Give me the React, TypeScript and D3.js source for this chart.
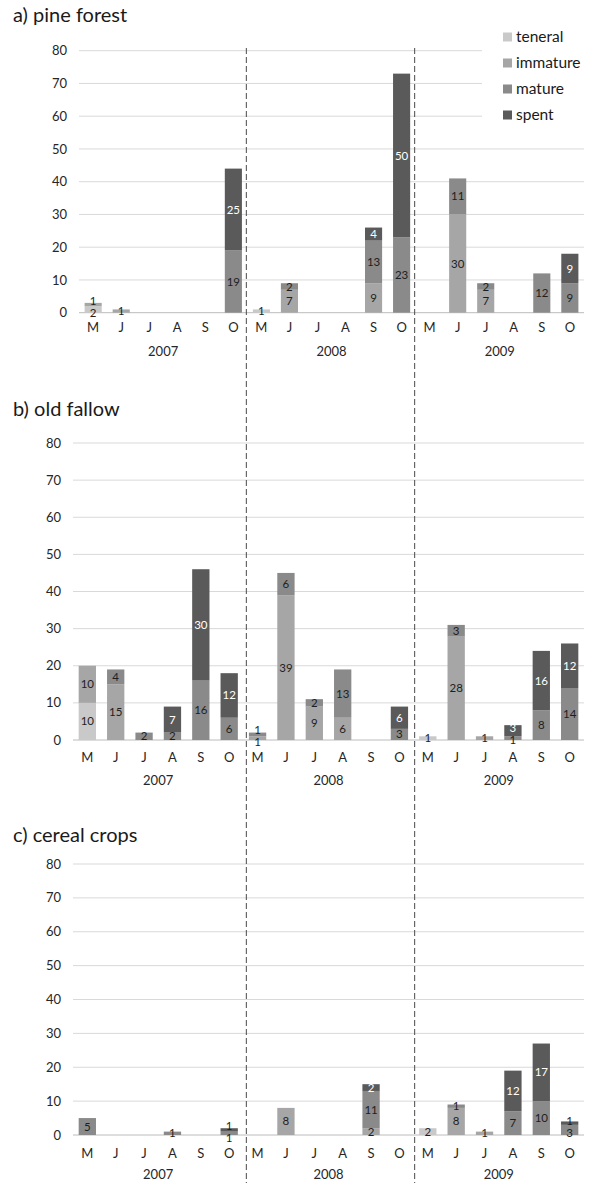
import React from "react";
import * as d3 from "d3";

// categories
const months = ["M", "J", "J", "A", "S", "O"];
const years = ["2007", "2008", "2009"];
const stages = ["teneral", "immature", "mature", "spent"];
const stageColors = ["#c9c9c9", "#a6a6a6", "#8a8a8a", "#5a5a5a"];
const yTicks = [0, 10, 20, 30, 40, 50, 60, 70, 80];

// a) pine forest — 2007 M..O, 2008 M..O, 2009 M..O
const pineTeneral = [2, 0, 0, 0, 0, 0, 1, 0, 0, 0, 0, 0, 0, 0, 0, 0, 0, 0];
const pineImmature = [1, 1, 0, 0, 0, 0, 0, 7, 0, 0, 9, 0, 0, 30, 7, 0, 0, 0];
const pineMature = [0, 0, 0, 0, 0, 19, 0, 2, 0, 0, 13, 23, 0, 11, 2, 0, 12, 9];
const pineSpent = [0, 0, 0, 0, 0, 25, 0, 0, 0, 0, 4, 50, 0, 0, 0, 0, 0, 9];

// b) old fallow
const fallowTeneral = [10, 0, 0, 0, 0, 0, 0, 0, 0, 0, 0, 0, 1, 0, 0, 0, 0, 0];
const fallowImmature = [10, 15, 0, 0, 0, 0, 1, 39, 9, 6, 0, 0, 0, 28, 1, 0, 0, 0];
const fallowMature = [0, 4, 2, 2, 16, 6, 1, 6, 2, 13, 0, 3, 0, 3, 0, 1, 8, 14];
const fallowSpent = [0, 0, 0, 7, 30, 12, 0, 0, 0, 0, 0, 6, 0, 0, 0, 3, 16, 12];

// c) cereal crops
const cerealTeneral = [0, 0, 0, 0, 0, 0, 0, 0, 0, 0, 0, 0, 2, 0, 0, 0, 0, 0];
const cerealImmature = [0, 0, 0, 0, 0, 0, 0, 8, 0, 0, 2, 0, 0, 8, 1, 0, 0, 0];
const cerealMature = [5, 0, 0, 1, 0, 1, 0, 0, 0, 0, 11, 0, 0, 1, 0, 7, 10, 3];
const cerealSpent = [0, 0, 0, 0, 0, 1, 0, 0, 0, 0, 2, 0, 0, 0, 0, 12, 17, 1];

const FONT = "Lato, 'Open Sans', sans-serif";
const LABEL_GAP = 12;

const categories = years.flatMap((y) => months.map((m, i) => `${y}-${i}-${m}`));

function buildRows(series: number[][]) {
  return categories.map((key, i) => {
    const row: any = { key };
    stages.forEach((s, j) => (row[s] = series[j][i]));
    return row;
  });
}

interface PanelProps {
  title: string;
  series: number[][];
  titleY: number;
  top: number; // y of the 80 line
  bottom: number; // y of the 0 line
  left: number;
  labelX: number;
  monthY: number;
  yearY: number;
  legend?: boolean;
}

const Panel: React.FC<PanelProps> = ({ title, series, titleY, top, bottom, left, labelX, monthY, yearY, legend }) => {
  const right = 584;
  const x = d3.scaleBand<string>().domain(categories).range([left, right]).paddingInner(0.39).paddingOuter(0.2);
  const y = d3.scaleLinear().domain([0, 80]).range([bottom, top]);
  const stacked = d3.stack<any>().keys(stages)(buildRows(series));
  const yearBand = d3.scaleBand<string>().domain(years).range([left, right]);

  // segment labels, pushed apart a little where tiny segments sit on each other
  const labels: { x: number; y: number; v: number; inside: boolean; li: number }[] = [];
  categories.forEach((c, i) => {
    const items = stacked
      .map((layer, li) => ({ li, d: layer[i] }))
      .filter((o) => o.d[1] - o.d[0] > 0)
      .map((o) => ({
        x: (x(c) as number) + x.bandwidth() / 2,
        y: y((o.d[0] + o.d[1]) / 2),
        v: o.d[1] - o.d[0],
        lo: y(o.d[0]),
        hi: y(o.d[1]),
        li: o.li,
      }));
    for (let it = 0; it < 4; it++) {
      for (let k = 1; k < items.length; k++) {
        const gap = items[k - 1].y - items[k].y;
        if (gap < LABEL_GAP) {
          const push = (LABEL_GAP - gap) / 2;
          items[k - 1].y += push;
          items[k].y -= push;
        }
      }
    }
    items.forEach((o) =>
      labels.push({ x: o.x, y: o.y, v: o.v, li: o.li, inside: o.y >= o.hi && o.y <= o.lo })
    );
  });

  return (
    <g>
      <text x={13} y={titleY} fontSize={20} fill="#1a1a1a" fontFamily={FONT}>
        {title}
      </text>
      {yTicks.map((t) => (
        <g key={t}>
          <line
            x1={left}
            x2={legend && t >= 60 ? 482 : right}
            y1={y(t)}
            y2={y(t)}
            stroke={t === 0 ? "#bcbcbc" : "#d9d9d9"}
            strokeWidth={1}
          />
          <text x={labelX} y={y(t)} dy="0.35em" textAnchor="end" fontSize={13} fill="#262626" fontFamily={FONT}>
            {t}
          </text>
        </g>
      ))}
      {stacked.map((layer, li) => (
        <g key={stages[li]} fill={stageColors[li]}>
          {layer.map((d, i) =>
            d[1] - d[0] > 0 ? (
              <rect key={i} x={x(categories[i])} width={x.bandwidth()} y={y(d[1])} height={y(d[0]) - y(d[1])} />
            ) : null
          )}
        </g>
      ))}
      {labels.map((l, k) => (
        <text
          key={k}
          x={l.x}
          y={l.y}
          dy="0.35em"
          textAnchor="middle"
          fontSize={11.5}
          fill={l.li === 3 && l.inside ? "#fff" : "#1e1e1e"}
          fontFamily={FONT}
        >
          {l.v}
        </text>
      ))}
      {categories.map((c, i) => (
        <text
          key={c}
          x={(x(c) as number) + x.bandwidth() / 2}
          y={monthY}
          dy="0.35em"
          textAnchor="middle"
          fontSize={13}
          fill="#262626"
          fontFamily={FONT}
        >
          {months[i % 6]}
        </text>
      ))}
      {years.map((yr) => (
        <text
          key={yr}
          x={(yearBand(yr) as number) + yearBand.bandwidth() / 2}
          y={yearY}
          dy="0.35em"
          textAnchor="middle"
          fontSize={13}
          fill="#262626"
          fontFamily={FONT}
        >
          {yr}
        </text>
      ))}
      {legend &&
        stages.map((s, i) => (
          <g key={s} transform={`translate(503,${37 + i * 26})`}>
            <rect x={0} y={-4.5} width={9} height={9} fill={stageColors[i]} />
            <text x={13} y={0} dy="0.35em" fontSize={15.5} fill="#1a1a1a" fontFamily={FONT}>
              {s}
            </text>
          </g>
        ))}
    </g>
  );
};

export default function App() {
  const width = 595;
  const height = 1183;
  const divider = d3.scaleLinear().domain([0, 18]).range([78, 583]);

  return (
    <svg width={width} height={height} style={{ position: "absolute", left: 0, top: 0, background: "#fff" }}>
      <rect width={width} height={height} fill="#fff" />
      <Panel
        title="a) pine forest"
        series={[pineTeneral, pineImmature, pineMature, pineSpent]}
        titleY={22}
        top={50.7}
        bottom={312.7}
        left={79}
        labelX={67}
        monthY={327}
        yearY={351}
        legend
      />
      <Panel
        title="b) old fallow"
        series={[fallowTeneral, fallowImmature, fallowMature, fallowSpent]}
        titleY={416}
        top={443}
        bottom={740}
        left={73}
        labelX={61}
        monthY={757}
        yearY={780}
      />
      <Panel
        title="c) cereal crops"
        series={[cerealTeneral, cerealImmature, cerealMature, cerealSpent]}
        titleY={842}
        top={864}
        bottom={1135}
        left={73}
        labelX={61}
        monthY={1153}
        yearY={1174}
      />
      {[6, 12].map((k) => (
        <line
          key={k}
          x1={divider(k)}
          x2={divider(k)}
          y1={48}
          y2={height}
          stroke="#4a4a4a"
          strokeWidth={1}
          strokeDasharray="6,3"
        />
      ))}
    </svg>
  );
}
